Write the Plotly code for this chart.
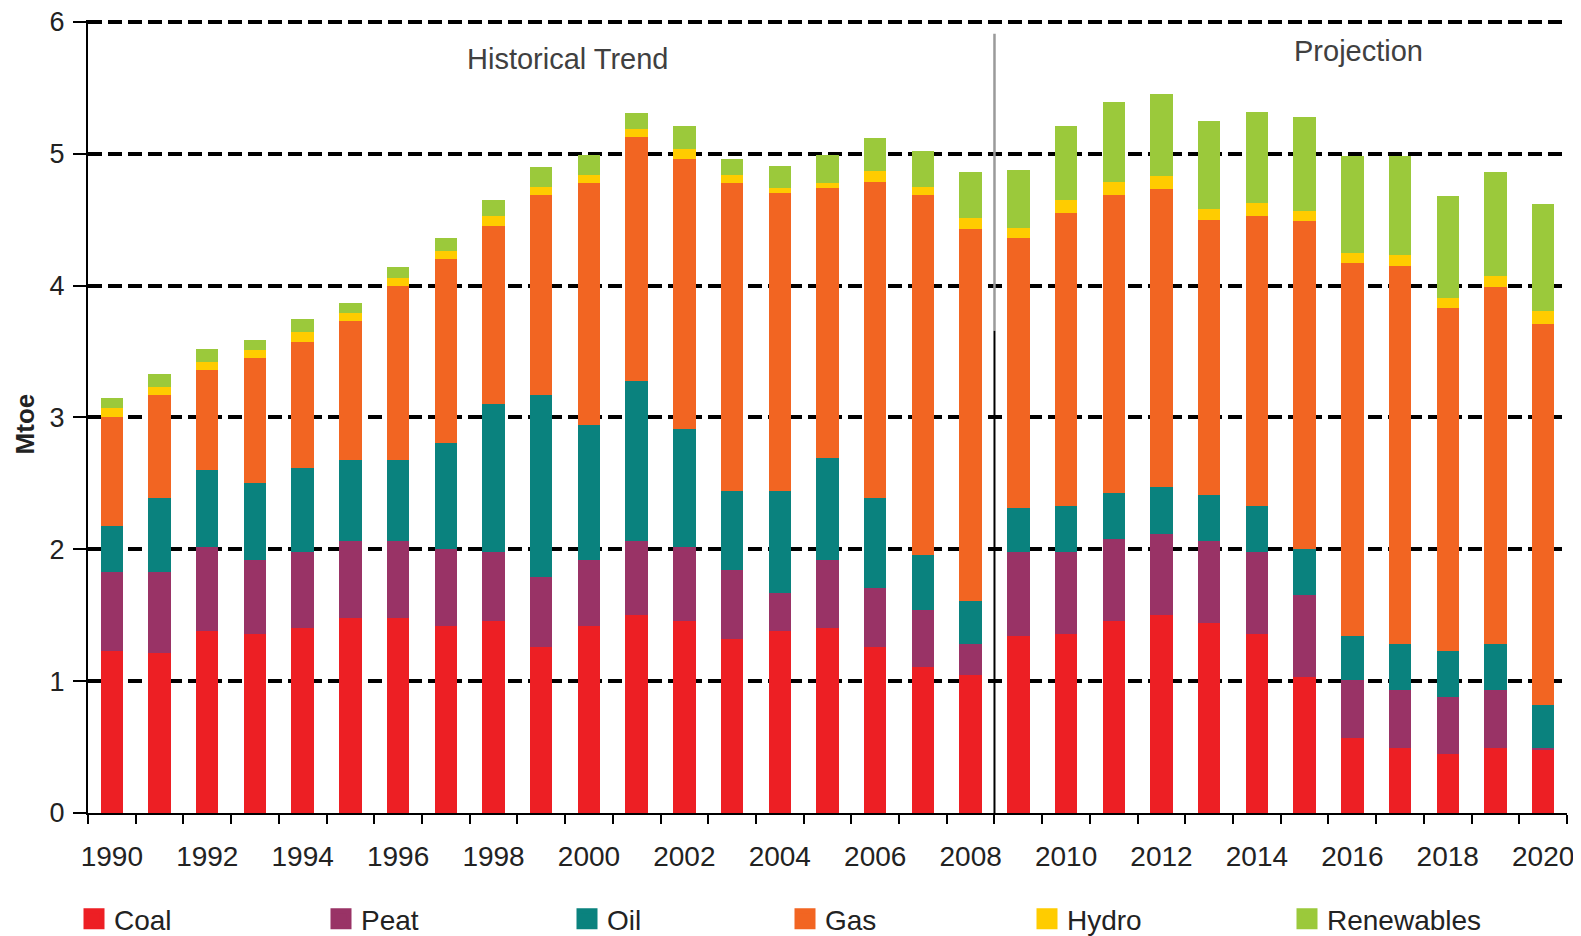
import plotly.graph_objects as go

years = list(range(1990, 2021))
tick_years = list(range(1990, 2021, 2))
tick_labels = [str(y) for y in tick_years]

series_names = ["Coal", "Peat", "Oil", "Gas", "Hydro", "Renewables"]
coal = [1.23, 1.21, 1.38, 1.36, 1.40, 1.48, 1.48, 1.42, 1.46, 1.26, 1.42, 1.50, 1.46, 1.32, 1.38, 1.40,
        1.26, 1.11, 1.05, 1.34, 1.36, 1.46, 1.50, 1.44, 1.36, 1.03, 0.57, 0.49, 0.45, 0.49, 0.48]
peat = [0.60, 0.62, 0.64, 0.56, 0.58, 0.58, 0.58, 0.58, 0.52, 0.53, 0.50, 0.56, 0.56, 0.52, 0.29, 0.52,
        0.45, 0.43, 0.23, 0.64, 0.62, 0.62, 0.62, 0.62, 0.62, 0.62, 0.44, 0.44, 0.43, 0.44, 0.01]
oil = [0.35, 0.56, 0.58, 0.58, 0.64, 0.62, 0.62, 0.81, 1.12, 1.38, 1.02, 1.22, 0.89, 0.60, 0.77, 0.77,
       0.68, 0.42, 0.33, 0.33, 0.35, 0.35, 0.35, 0.35, 0.35, 0.35, 0.33, 0.35, 0.35, 0.35, 0.33]
gas = [0.82, 0.78, 0.76, 0.95, 0.95, 1.05, 1.32, 1.39, 1.35, 1.52, 1.84, 1.85, 2.05, 2.34, 2.26, 2.05,
       2.40, 2.73, 2.82, 2.05, 2.22, 2.26, 2.26, 2.09, 2.20, 2.49, 2.83, 2.87, 2.60, 2.71, 2.89]
hydro = [0.07, 0.06, 0.06, 0.06, 0.08, 0.06, 0.06, 0.06, 0.08, 0.06, 0.06, 0.06, 0.08, 0.06, 0.04, 0.04,
         0.08, 0.06, 0.08, 0.08, 0.10, 0.10, 0.10, 0.08, 0.10, 0.08, 0.08, 0.08, 0.08, 0.08, 0.10]
renewables = [0.08, 0.10, 0.10, 0.08, 0.10, 0.08, 0.08, 0.10, 0.12, 0.15, 0.15, 0.12, 0.17, 0.12, 0.17, 0.21,
              0.25, 0.27, 0.35, 0.44, 0.56, 0.60, 0.62, 0.67, 0.69, 0.71, 0.73, 0.75, 0.77, 0.79, 0.81]

series_values = [coal, peat, oil, gas, hydro, renewables]
colors = ["#ED1F24", "#993366", "#0A827E", "#F26522", "#FFCC00", "#9BC93B"]

split_year = 2008.5
annotation_texts = ["Historical Trend", "Projection"]

FONT = "Liberation Sans, Arial, Helvetica, sans-serif"
# the page body adds an 8px offset, so the figure is drawn 8px smaller
OFF = 8
W, H = 1581 - OFF, 936 - OFF
plot_left, plot_w = 88, 1479

fig = go.Figure()
for name, vals, col in zip(series_names, series_values, colors):
    fig.add_trace(go.Bar(x=years, y=vals, name=name, marker=dict(color=col, line=dict(width=0)),
                         width=0.47, showlegend=False, legendgroup=name))

# legend entries (one legend per item so each can be placed like the reference)
legend_px = [74, 321, 567, 785, 1027, 1287]
for i, (name, col) in enumerate(zip(series_names, colors)):
    lid = "legend" if i == 0 else f"legend{i+1}"
    fig.add_trace(go.Scatter(x=[None], y=[None], mode="markers", name=name, legendgroup=name,
                             marker=dict(symbol="square", size=16, color=col, line=dict(color=col, width=5)),
                             showlegend=True, legend=lid))

legend_common = dict(orientation="h", yanchor="middle", xanchor="left", xref="container", yref="container",
                     y=1 - (919 - OFF) / H, font=dict(family=FONT, size=28, color="#222222"),
                     bgcolor="rgba(0,0,0,0)", itemsizing="trace", borderwidth=0)
legend_layout = {}
for i, px in enumerate(legend_px):
    lid = "legend" if i == 0 else f"legend{i+1}"
    legend_layout[lid] = dict(legend_common, x=(px - OFF) / W)

fig.update_layout(
    barmode="stack",
    width=W, height=H,
    margin=dict(l=plot_left - OFF, r=14, t=12, b=123, autoexpand=False),
    paper_bgcolor="white", plot_bgcolor="white",
    font=dict(family=FONT, size=27, color="#222222"),
    **legend_layout,
)

fig.update_yaxes(range=[0, 6.015], tick0=0, dtick=1, showgrid=True, gridcolor="black", gridwidth=3.8,
                 griddash="14px,6px", zeroline=False, showline=True, linecolor="black", linewidth=2,
                 ticks="outside", ticklen=13, tickwidth=1.5, tickcolor="black", ticklabelstandoff=3,
                 ticklabeloverflow="allow",
                 tickfont=dict(size=27, color="#222222"), automargin=False)

minor_vals = [y - 0.5 for y in years] + [years[-1] + 0.5]
fig.update_xaxes(range=[years[0] - 0.5, years[-1] + 0.5], tickmode="array", tickvals=tick_years,
                 ticktext=tick_labels, ticks="", showgrid=False, zeroline=False, showline=True,
                 linecolor="black", linewidth=2, ticklabelstandoff=17, automargin=False,
                 ticklabeloverflow="allow",
                 tickfont=dict(size=28, color="#222222"),
                 minor=dict(tickmode="array", tickvals=minor_vals, ticks="outside", ticklen=9,
                            tickwidth=1.5, tickcolor="black", showgrid=False))

# separator between history and projection
fig.add_shape(type="line", x0=split_year, x1=split_year, y0=0, y1=3.66, xref="x", yref="y",
              line=dict(color="black", width=2))
fig.add_shape(type="line", x0=split_year, x1=split_year, y0=3.66, y1=5.91, xref="x", yref="y",
              line=dict(color="#9a9a9a", width=2.5))

fig.add_annotation(x=1999.56, y=5.72, xref="x", yref="y", text=annotation_texts[0], showarrow=False,
                   xanchor="center", yanchor="middle",
                   font=dict(family=FONT, size=29, color="#404040"))
fig.add_annotation(x=2016.12, y=5.78, xref="x", yref="y", text=annotation_texts[1], showarrow=False,
                   xanchor="center", yanchor="middle",
                   font=dict(family=FONT, size=29, color="#404040"))
fig.add_annotation(x=(25 - plot_left) / plot_w, y=0.49, xref="paper", yref="paper", text="<b>Mtoe</b>",
                   textangle=-90, showarrow=False, xanchor="center", yanchor="middle",
                   font=dict(family=FONT, size=26, color="#222222"))

fig.write_html("out.html")
